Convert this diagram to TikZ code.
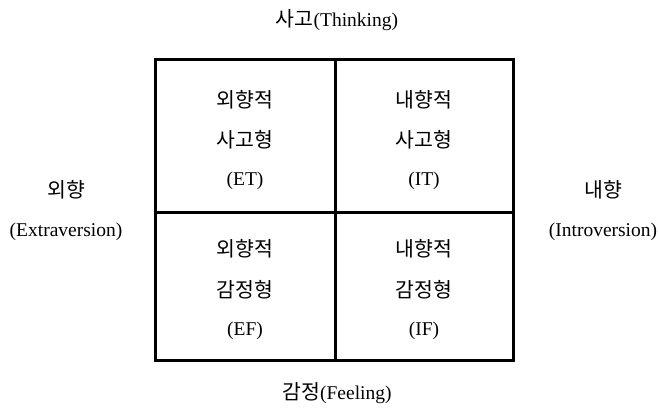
\documentclass[tikz,border=0pt]{standalone}
\usepackage{fontspec}
\setmainfont{Liberation Serif}
\newfontfamily\kr{Noto Sans CJK KR}
\begin{document}
\begin{tikzpicture}[x=1pt,y=-1pt,
  lbl/.style={font=\fontsize{19.5}{22}\selectfont, inner sep=0pt, anchor=center},
  kl/.style={font=\kr\fontsize{20.5}{22}\selectfont, inner sep=0pt, anchor=center},
  grid/.style={line width=3pt}]
\useasboundingbox (0,0) rectangle (658,414);
\coordinate (tl) at (155,60);
\coordinate (br) at (513,360);
\draw[grid] (tl) rectangle (br);
\coordinate (mt) at (335,60); \coordinate (mb) at (335,360);
\coordinate (ml) at (155,212); \coordinate (mr) at (513,212);
\draw[grid] (mt) -- (mb);
\draw[grid] (ml) -- (mr);
% top / bottom
\node[lbl] (top) at (337,20) {{\kr\fontsize{20.5}{22}\selectfont 사고}(Thinking)};
\node[lbl] (bot) at (337,393) {{\kr\fontsize{20.5}{22}\selectfont 감정}(Feeling)};
% left / right
\node[kl] (l1) at (66,190) {외향};
\node[lbl] (l2) at (66,232) {(Extraversion)};
\node[kl] (r1) at (603,190) {내향};
\node[lbl] (r2) at (603,232) {(Introversion)};
% cells
\node[kl] (a1) at (245,100) {외향적};
\node[kl] (a2) at (245,140) {사고형};
\node[lbl] (a3) at (245,181) {(ET)};
\node[kl] (b1) at (424,100) {내향적};
\node[kl] (b2) at (424,140) {사고형};
\node[lbl] (b3) at (424,181) {(IT)};
\node[kl] (c1) at (245,249) {외향적};
\node[kl] (c2) at (245,290) {감정형};
\node[lbl] (c3) at (245,331) {(EF)};
\node[kl] (d1) at (424,249) {내향적};
\node[kl] (d2) at (424,290) {감정형};
\node[lbl] (d3) at (424,331) {(IF)};
\end{tikzpicture}
\end{document}
